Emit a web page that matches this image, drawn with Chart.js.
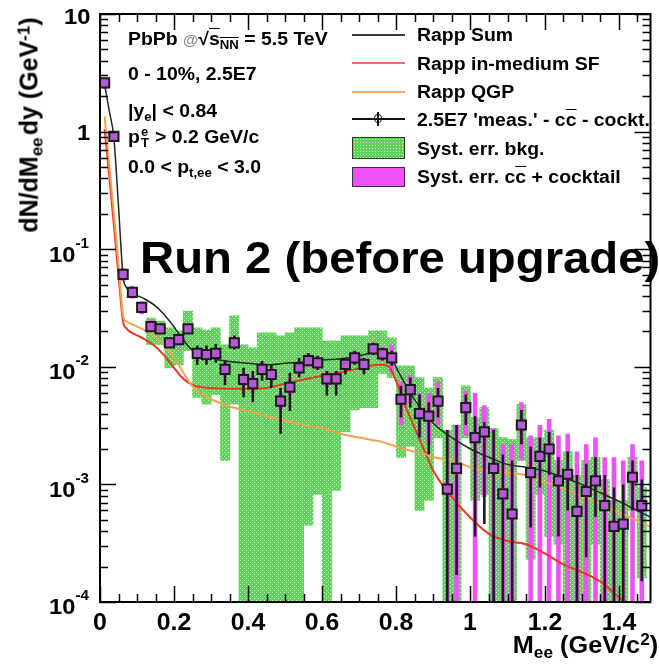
<!DOCTYPE html>
<html><head><meta charset="utf-8">
<script src="https://cdn.jsdelivr.net/npm/chart.js@4.4.1/dist/chart.umd.min.js"></script>
<style>
html,body{margin:0;padding:0;background:#fff;}
#wrap{position:relative;width:659px;height:667px;overflow:hidden;background:#fff;}
#c{position:absolute;left:0;top:0;}
.txt{position:absolute;white-space:nowrap;line-height:1;font-weight:bold;font-family:'Liberation Sans',Arial,Helvetica,sans-serif;color:#000;}
.txt sub,.txt sup{line-height:0;position:relative;vertical-align:baseline;font-size:0.68em;}
.txt sup{top:-0.5em;}
.txt sub{top:0.32em;}
.ysup{line-height:0;position:relative;vertical-align:baseline;font-size:14px;top:-14px;}
.ov{text-decoration:overline;}
.sym{position:absolute;}
</style></head><body>
<div id="wrap"><canvas id="c" width="659" height="667"></canvas></div>
<script>
// ---------------- data ----------------
const massBins = [0.0125,0.0375,0.0625,0.0875,0.1125,0.1375,0.1625,0.1875,0.2125,0.2375,
  0.2625,0.2875,0.3125,0.3375,0.3625,0.3875,0.4125,0.4375,0.4625,0.4875,
  0.5125,0.5375,0.5625,0.5875,0.6125,0.6375,0.6625,0.6875,0.7125,0.7375,
  0.7625,0.7875,0.8125,0.8375,0.8625,0.8875,0.9125,0.9375,0.9625,0.9875,
  1.0125,1.0375,1.0625,1.0875,1.1125,1.1375,1.1625,1.1875,1.2125,1.2375,
  1.2625,1.2875,1.3125,1.3375,1.3625,1.3875,1.4125,1.4375,1.4625];
const yieldMeas = [2.6,0.91,0.061,0.043,0.032,0.022,0.021,0.016,0.017,0.021,
  0.013,0.0127,0.013,0.0095,0.016,0.0078,0.0072,0.0095,0.0086,0.0051,
  0.0067,0.0098,0.0113,0.0108,0.0079,0.0079,0.0105,0.0119,0.0105,0.0142,
  0.0129,0.0119,0.0053,0.0064,0.0040,0.0038,0.0051,0.00091,0.00137,0.0045,
  0.0025,0.0028,0.00137,0.00083,0.00056,0.0032,0.00126,0.00173,0.0020,0.00107,
  0.00122,0.00059,0.00087,0.00107,0.00066,0.00044,0.00046,0.00115,0.00066];
const statLo = [2.45,0.86,0.057,0.040,0.030,0.0205,0.0195,0.0148,0.0155,0.0198,
  0.0104,0.0104,0.0108,0.0070,0.0140,0.0055,0.0050,0.0076,0.0066,0.0027,
  0.0042,0.0081,0.0102,0.0094,0.0057,0.0057,0.0086,0.0104,0.0086,0.0126,
  0.0113,0.0102,0.0037,0.0045,0.0025,0.0018,0.0037,0.00005,0.00017,0.0032,
  0.00036,0.00046,0.00005,0.00005,0.00005,0.0022,0.00043,0.00094,0.0012,0.00036,
  0.0006,0.00005,0.00024,0.00053,0.00005,0.00005,0.00005,0.0006,0.00015];
const statHi = [2.75,0.96,0.065,0.046,0.034,0.0235,0.0225,0.0172,0.018,0.0228,
  0.0152,0.0152,0.0156,0.0112,0.0185,0.0098,0.0092,0.0112,0.0104,0.0066,
  0.0089,0.0119,0.0131,0.0124,0.0092,0.0092,0.0119,0.0137,0.0119,0.016,
  0.0145,0.0137,0.0069,0.0081,0.0058,0.0050,0.0066,0.0029,0.0032,0.0058,
  0.0038,0.0034,0.0029,0.0018,0.0016,0.0043,0.0021,0.0025,0.0028,0.0017,
  0.0019,0.0012,0.0015,0.0017,0.0012,0.00094,0.0010,0.0016,0.0011];
const bkgLo = [null,null,null,null,null,0.0154,0.0154,0.0098,0.0104,0.0137,
  0.0055,0.0048,0.0058,0.0016,0.0048,0.00005,0.00005,0.00005,0.00005,0.00005,
  0.00005,0.00005,0.00045,0.00082,0.00005,0.00089,0.0028,0.0043,0.0045,0.0045,
  0.0088,0.0081,0.0017,0.0021,0.0006,0.00073,0.0025,0.00005,0.00005,0.0025,
  0.00073,0.00082,0.00005,0.00005,0.00005,0.0016,0.00023,0.00082,0.00036,0.00031,
  0.00005,0.00005,0.00005,0.00031,0.00005,0.00005,0.00005,0.0006,0.00016];
const bkgHi = [null,null,null,null,null,0.026,0.0245,0.0214,0.0202,0.0298,
  0.0214,0.0205,0.0214,0.0154,0.0271,0.0154,0.0145,0.0194,0.0194,0.0183,
  0.0194,0.0214,0.0214,0.0214,0.0166,0.0166,0.0183,0.0183,0.0183,0.0202,
  0.0202,0.0176,0.0102,0.0102,0.0081,0.0066,0.0081,0.0029,0.0032,0.0069,
  0.0037,0.0045,0.0030,0.0025,0.0024,0.0048,0.0025,0.0025,0.0029,0.0016,
  0.0019,0.0012,0.0016,0.0017,0.0011,0.00073,0.00073,0.0017,0.00094];
const ccLo = [2.3,0.82,0.054,0.038,0.028,0.020,0.019,0.0145,0.015,0.019,
  0.0118,0.0114,0.0117,0.0083,0.0145,0.0067,0.0062,0.0083,0.0075,0.0043,
  0.0057,0.0086,0.0099,0.0094,0.0068,0.0068,0.0091,0.0104,0.0091,0.0124,
  0.0112,0.0086,0.0032,0.0048,0.0025,0.0022,0.0032,0.00005,0.00005,0.0026,
  0.00005,0.00078,0.00005,0.00005,0.00005,0.0016,0.00005,0.00005,0.00005,0.00005,
  0.00005,0.00005,0.00005,0.00005,0.00005,0.00005,0.00005,0.00005,0.00005];
const ccHi = [2.9,1.0,0.069,0.049,0.036,0.025,0.023,0.0178,0.019,0.023,
  0.0145,0.0141,0.0145,0.011,0.018,0.009,0.0084,0.011,0.0099,0.006,
  0.0079,0.0112,0.0128,0.0123,0.0092,0.0092,0.012,0.0136,0.012,0.0162,
  0.0148,0.0154,0.0075,0.0085,0.0060,0.0060,0.0075,0.0029,0.0032,0.0063,
  0.0060,0.0047,0.0030,0.0022,0.0022,0.0050,0.0026,0.0032,0.0036,0.0026,
  0.0027,0.0019,0.0022,0.0025,0.0017,0.0017,0.0016,0.0022,0.0016];
const curveMass = [0.0125,0.025,0.0375,0.05,0.0625,0.07,0.08,0.1,0.12,0.15,
  0.18,0.2,0.22,0.25,0.3,0.35,0.4,0.45,0.5,0.55,
  0.6,0.65,0.7,0.73,0.76,0.78,0.8,0.82,0.85,0.88,
  0.9,0.95,1.0,1.05,1.1,1.15,1.2,1.25,1.3,1.35,
  1.4,1.45,1.49];
const rappSum = [2.5,1.5,0.88,0.23,0.058,0.048,0.044,0.0405,0.0378,0.0328,
  0.0263,0.0218,0.0177,0.0138,0.0119,0.0111,0.0107,0.0104,0.0107,0.011,
  0.0114,0.0117,0.0124,0.0131,0.0137,0.013,0.0098,0.0075,0.0052,0.0039,
  0.0033,0.0025,0.0020,0.0017,0.00148,0.0014,0.0013,0.00115,0.001,0.00085,
  0.00072,0.0006,0.00052];
const rappSF = [1.05,0.42,0.16,0.06,0.024,0.0215,0.020,0.0185,0.0172,0.0148,
  0.0118,0.0098,0.0082,0.0070,0.0066,0.0065,0.0065,0.0066,0.0072,0.0078,
  0.0084,0.0090,0.0097,0.0102,0.0104,0.0100,0.0075,0.0050,0.0030,0.0018,
  0.0013,0.00078,0.00052,0.00038,0.00033,0.00031,0.00026,0.00021,0.00018,0.00015,
  0.00011,0.00008,0.00006];
const rappQGP = [1.35,0.52,0.2,0.075,0.027,0.0245,0.0235,0.022,0.0205,0.018,
  0.0145,0.012,0.0095,0.0068,0.0053,0.0046,0.0042,0.0038,0.0035,0.0032,
  0.0030,0.0027,0.0025,0.0024,0.0023,0.0022,0.0021,0.0020,0.0019,0.0018,
  0.0017,0.0016,0.0014,0.0013,0.00125,0.0012,0.00105,0.00093,0.0008,0.00068,
  0.00058,0.00049,0.00043];
const xTickValues = [0,0.2,0.4,0.6,0.8,1.0,1.2,1.4];
const xTickLabels = ['0','0.2','0.4','0.6','0.8','1','1.2','1.4'];
const yTickValues = [10,1,0.1,0.01,0.001,0.0001];
const yTickBase = ['10','1','10','10','10','10'];
const yTickSup = ['','','-1','-2','-3','-4'];

// ---------------- chart ----------------
const W = 659;
const canvas = document.getElementById('c');
const ctx = canvas.getContext('2d');
const pc = document.createElement('canvas'); pc.width = 4; pc.height = 4;
const pctx = pc.getContext('2d');
pctx.fillStyle = '#5ed35a'; pctx.fillRect(0,0,4,4);
pctx.fillStyle = '#d6f7cf'; pctx.fillRect(0,0,1,1); pctx.fillRect(2,2,1,1);
const greenPattern = ctx.createPattern(pc, 'repeat');

const errPlugin = {
  id: 'errbars',
  beforeDatasetDraw(chart, args) {
    const ds = chart.data.datasets[args.index];
    if (ds.id !== 'meas') return;
    const {ctx, chartArea: a, scales: {x, y}} = chart;
    ctx.save();
    ctx.beginPath(); ctx.rect(a.left, a.top, a.right - a.left, a.bottom - a.top); ctx.clip();
    ctx.strokeStyle = '#1e1a20'; ctx.lineWidth = 2.6;
    ctx.beginPath();
    massBins.forEach((m, i) => {
      const px = x.getPixelForValue(m);
      ctx.moveTo(px, y.getPixelForValue(statLo[i]));
      ctx.lineTo(px, y.getPixelForValue(statHi[i]));
    });
    ctx.stroke();
    ctx.restore();
  }
};
const framePlugin = {
  id: 'frame',
  afterDatasetsDraw(chart) {
    const {ctx, chartArea: a, scales: {x, y}} = chart;
    ctx.save();
    ctx.strokeStyle = '#000'; ctx.lineWidth = 1.5;
    ctx.beginPath();
    for (let k = 0; k * 0.05 <= x.max + 1e-9; k++) {
      const px = Math.round(x.getPixelForValue(k * 0.05)) + 0.5;
      const L = (k % 4 === 0) ? 16 : 8;
      ctx.moveTo(px, a.bottom); ctx.lineTo(px, a.bottom - L);
      ctx.moveTo(px, a.top); ctx.lineTo(px, a.top + L);
    }
    for (let e = -4; e <= 1; e++) {
      for (let m = 1; m <= 9; m++) {
        const v = m * Math.pow(10, e);
        if (v > y.max * 1.0001) continue;
        const py = Math.round(y.getPixelForValue(v)) + 0.5;
        const L = (m === 1) ? 16 : 8;
        ctx.moveTo(a.left, py); ctx.lineTo(a.left + L, py);
        ctx.moveTo(a.right, py); ctx.lineTo(a.right - L, py);
      }
    }
    ctx.stroke();
    ctx.lineWidth = 2;
    ctx.strokeRect(a.left, a.top, a.right - a.left, a.bottom - a.top);
    ctx.restore();
  }
};

const chart = new Chart(ctx, {
  type: 'scatter',
  data: {
    datasets: [
      { id: 'bkg', type: 'bar', label: 'Syst. err. bkg.',
        data: massBins.map((m, i) => bkgLo[i] == null ? null : {x: m, y: [bkgLo[i], bkgHi[i]]}).filter(d => d),
        backgroundColor: greenPattern, borderWidth: 0, grouped: false,
        barPercentage: 1.0, categoryPercentage: 1.0, clip: 0, order: 5 },
      { id: 'cc', type: 'bar', label: 'Syst. err. cc + cocktail',
        data: massBins.map((m, i) => ({x: m, y: [ccLo[i], ccHi[i]]})),
        backgroundColor: '#ee52f6', borderWidth: 0, grouped: false,
        barPercentage: 0.5, categoryPercentage: 1.0, clip: 0, order: 4 },
      { id: 'qgp', type: 'line', label: 'Rapp QGP',
        data: curveMass.map((m, i) => ({x: m, y: rappQGP[i]})),
        borderColor: '#f2a24e', borderWidth: 2, pointRadius: 0, fill: false,
        cubicInterpolationMode: 'monotone', order: 3 },
      { id: 'sf', type: 'line', label: 'Rapp in-medium SF',
        data: curveMass.map((m, i) => ({x: m, y: rappSF[i]})),
        borderColor: '#e8382a', borderWidth: 2, pointRadius: 0, fill: false,
        cubicInterpolationMode: 'monotone', order: 3 },
      { id: 'sum', type: 'line', label: 'Rapp Sum',
        data: curveMass.map((m, i) => ({x: m, y: rappSum[i]})),
        borderColor: '#1c2a1c', borderWidth: 1.5, pointRadius: 0, fill: false,
        cubicInterpolationMode: 'monotone', order: 2 },
      { id: 'meas', type: 'scatter', label: "2.5E7 'meas.' - cc - cockt.",
        data: massBins.map((m, i) => ({x: m, y: yieldMeas[i]})),
        pointStyle: 'rect', pointRadius: 6.5, pointBackgroundColor: '#b35ad4',
        pointBorderColor: '#1c1c1c', pointBorderWidth: 2, order: 1 }
    ]
  },
  options: {
    responsive: false, animation: false, devicePixelRatio: 1, events: [],
    layout: { padding: { left: 100, right: 1, top: 14, bottom: 65 } },
    plugins: { legend: { display: false }, tooltip: { enabled: false } },
    scales: {
      x: { type: 'linear', min: 0, max: 1.486, offset: false, display: false, grid: { offset: false } },
      y: { type: 'logarithmic', min: 0.0001, max: 10, offset: false, display: false }
    }
  },
  plugins: [errPlugin, framePlugin]
});

// ---------------- text overlays ----------------
const wrap = document.getElementById('wrap');
function place(html, x, baseline, fs, align, sx) {
  const d = document.createElement('div');
  d.className = 'txt';
  d.innerHTML = html;
  d.style.fontSize = fs + 'px';
  d.style.top = (baseline - 0.8465 * fs) + 'px';
  if (align === 'left') {
    d.style.left = x + 'px'; d.style.transformOrigin = 'left center';
    d.style.transform = 'scaleX(' + sx + ')';
  } else if (align === 'right') {
    d.style.right = (W - x) + 'px'; d.style.transformOrigin = 'right center';
    d.style.transform = 'scaleX(' + sx + ')';
  } else {
    d.style.left = x + 'px';
    d.style.transform = 'translateX(-50%) scaleX(' + sx + ')';
  }
  wrap.appendChild(d);
  return d;
}
function box(l, t, w, h, css) {
  const d = document.createElement('div');
  d.className = 'sym';
  d.style.left = l + 'px'; d.style.top = t + 'px';
  d.style.width = w + 'px'; d.style.height = h + 'px';
  Object.assign(d.style, css);
  wrap.appendChild(d);
}

const xs = chart.scales.x, ys = chart.scales.y;
xTickValues.forEach((v, i) => place(xTickLabels[i], xs.getPixelForValue(v), 630, 23, 'center', 1.08));
yTickValues.forEach((v, i) => {
  const py = ys.getPixelForValue(v);
  if (yTickSup[i]) place(yTickBase[i] + '<span class="ysup">' + yTickSup[i] + '</span>', 89, py + 13, 22, 'right', 1.08);
  else place(yTickBase[i], 90, py + (i === 0 ? 11 : 9), 22, 'right', 1.08);
});

// axis titles
place('M<sub>ee</sub> (GeV/c<sup>2</sup>)', 658, 653, 23, 'right', 1.1);
const yt = document.createElement('div');
yt.className = 'txt';
yt.innerHTML = 'dN/dM<sub>ee</sub>&#8202;dy (GeV<sup>-1</sup>)';
yt.style.fontSize = '25px';
yt.style.left = '28.5px'; yt.style.top = '125px';
yt.style.transform = 'translate(-50%,-50%) rotate(-90deg)';
wrap.appendChild(yt);

// info block
place('PbPb <span style="color:#8c8c8c;font-size:0.8em">@</span>&#8730;<span class="ov">s<sub>NN</sub></span> = 5.5 TeV', 128, 45, 18, 'left', 1.08);
place('0 - 10%, 2.5E7', 128, 80, 18, 'left', 1.08);
place('|y<sub>e</sub>| &lt; 0.84', 128, 117, 18, 'left', 1.08);
place('p<span style="position:relative;display:inline-block;width:9px;">&#8203;<span style="position:absolute;left:1px;top:-2px;font-size:12px;line-height:1;">e</span><span style="position:absolute;left:1px;top:9px;font-size:12px;line-height:1;">T</span></span> &gt; 0.2 GeV/c', 128, 143, 18, 'left', 1.08);
place('0.0 &lt; p<sub>t,ee</sub> &lt; 3.0', 128, 173, 18, 'left', 1.08);

// big annotation
place('Run 2 (before upgrade)', 140, 273, 44, 'left', 1.075);

// legend
const LX = 352, LW = 53, TX = 416.5;
box(LX, 34, LW, 2, {background: '#3c3c3c'});
box(LX, 62, LW, 2, {background: '#f26a6a'});
box(LX, 91, LW, 2, {background: '#f4ad62'});
box(LX, 118, LW, 1.5, {background: '#111'});
box(377, 112, 2, 14, {background: '#111'});
box(374, 114, 8, 9, {border: '1.5px solid #111', borderRadius: '50%', background: 'transparent', boxSizing: 'border-box'});
box(LX, 137, LW, 22, {boxSizing: 'border-box', border: '1.5px solid #333', backgroundColor: '#5ed35a',
  backgroundImage: 'radial-gradient(circle, #d6f7cf 0.7px, transparent 1px)', backgroundSize: '3px 3px'});
box(LX, 167, LW, 20, {boxSizing: 'border-box', border: '1.5px solid #333', backgroundColor: '#ee52f6'});
place('Rapp Sum', TX, 41.5, 18, 'left', 1.08);
place('Rapp in-medium SF', TX, 70, 18, 'left', 1.08);
place('Rapp QGP', TX, 98, 18, 'left', 1.08);
place("2.5E7 'meas.' - c<span class=\"ov\">c</span> - cockt.", TX, 126.5, 18, 'left', 1.08);
place('Syst. err. bkg.', TX, 155, 18, 'left', 1.08);
place('Syst. err. c<span class="ov">c</span> + cocktail', TX, 183.5, 18, 'left', 1.08);
</script></body></html>
